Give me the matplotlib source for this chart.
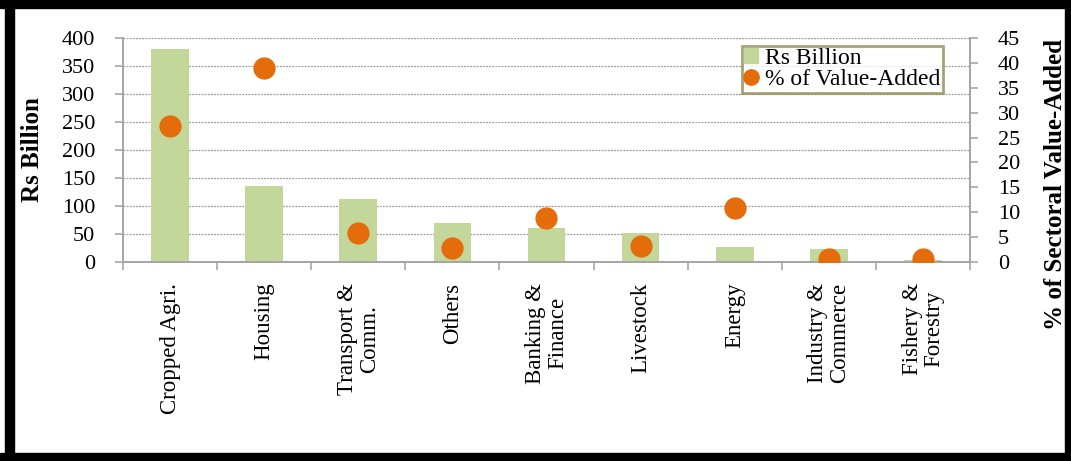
import matplotlib
matplotlib.use("Agg")
import matplotlib.pyplot as plt
from matplotlib.patches import Rectangle
from matplotlib.lines import Line2D
import numpy as np

# sector data
sectors = ["Cropped Agri.", "Housing", "Transport &\nComm.", "Others",
           "Banking &\nFinance", "Livestock", "Energy",
           "Industry &\nCommerce", "Fishery &\nForestry"]
rs_billion = [380, 135, 112, 69, 60, 52, 27, 24, 3]
pct_value_added = [27.4, 39.0, 5.9, 2.8, 8.8, 3.3, 10.9, 0.6, 0.6]

left_ticks = list(range(0, 401, 50))
right_ticks = list(range(0, 46, 5))

bar_color = "#C4D79B"
dot_color = "#E46C0A"
axis_gray = "#A6A6A6"

plt.rcParams["font.family"] = ["Liberation Serif", "DejaVu Serif"]

fig = plt.figure(figsize=(10.71, 4.61), dpi=100)
ax = fig.add_axes([0.1148, 0.4317, 0.7909, 0.4859])
ax2 = ax.twinx()

x = np.arange(len(sectors))
ax.bar(x, rs_billion, width=0.4, color=bar_color, zorder=2)
ax2.plot(x, pct_value_added, linestyle="none", marker="o", markersize=15,
         color=dot_color, zorder=3)

ax.set_xlim(-0.5, len(sectors) - 0.5)
ax.set_ylim(0, 400)
ax2.set_ylim(0, 45)
ax.set_yticks(left_ticks)
ax2.set_yticks(right_ticks)

# dotted gridlines
ax.yaxis.grid(True, color="#9A9A9A", linestyle=(0, (1.5, 1)), linewidth=0.9, zorder=0)
ax.set_axisbelow(True)

# category ticks at boundaries, labels at centers
ax.set_xticks(x)
ax.set_xticklabels(sectors, rotation=90, fontsize=16.5, ha="center", va="top",
                   multialignment="center", linespacing=1.05)
ax.tick_params(axis="x", which="major", length=0, pad=15)
ax.set_xticks(np.arange(-0.5, len(sectors), 1.0), minor=True)
ax.tick_params(axis="x", which="minor", length=6, width=1.2, color=axis_gray)

ax.tick_params(axis="y", labelsize=16, length=6, width=1.2, color=axis_gray, pad=14)
ax2.tick_params(axis="y", labelsize=16, length=6, width=1.2, color=axis_gray, pad=14)

for a in (ax, ax2):
    a.spines["top"].set_visible(False)
    for s in ("left", "right", "bottom"):
        a.spines[s].set_color(axis_gray)
        a.spines[s].set_linewidth(1.3)

ax.set_ylabel("Rs Billion", fontsize=18, fontweight="bold")
ax.yaxis.set_label_coords(-0.093, 0.5)
ax2.set_ylabel("% of Sectoral Value-Added", fontsize=18, fontweight="bold")
ax2.yaxis.set_label_coords(1.087, 0.345)

handles = [Rectangle((0, 0), 1, 1, color=bar_color),
           Line2D([], [], linestyle="none", marker="o", markersize=11, color=dot_color)]
leg = ax2.legend(handles, ["Rs Billion", "% of Value-Added"], loc="upper right",
                 bbox_to_anchor=(0.968, 0.965), fontsize=17, frameon=True,
                 fancybox=False, handlelength=0.6, handleheight=0.6,
                 handletextpad=0.3, borderpad=0.1, labelspacing=0.0,
                 borderaxespad=0)
leg.get_frame().set_edgecolor("#948A54")
leg.get_frame().set_linewidth(2)

# black frame around the whole picture
W, H = 1071.0, 461.0
for (x0, y0, w, h) in [(0, 453, 1071, 8), (0, 0, 1071, 8), (5, 0, 9, 461), (1065, 0, 6, 461)]:
    fig.add_artist(Rectangle((x0 / W, 1 - (y0 + h) / H), w / W, h / H,
                             transform=fig.transFigure, color="black", zorder=10))

fig.savefig("out.png", dpi=100)
